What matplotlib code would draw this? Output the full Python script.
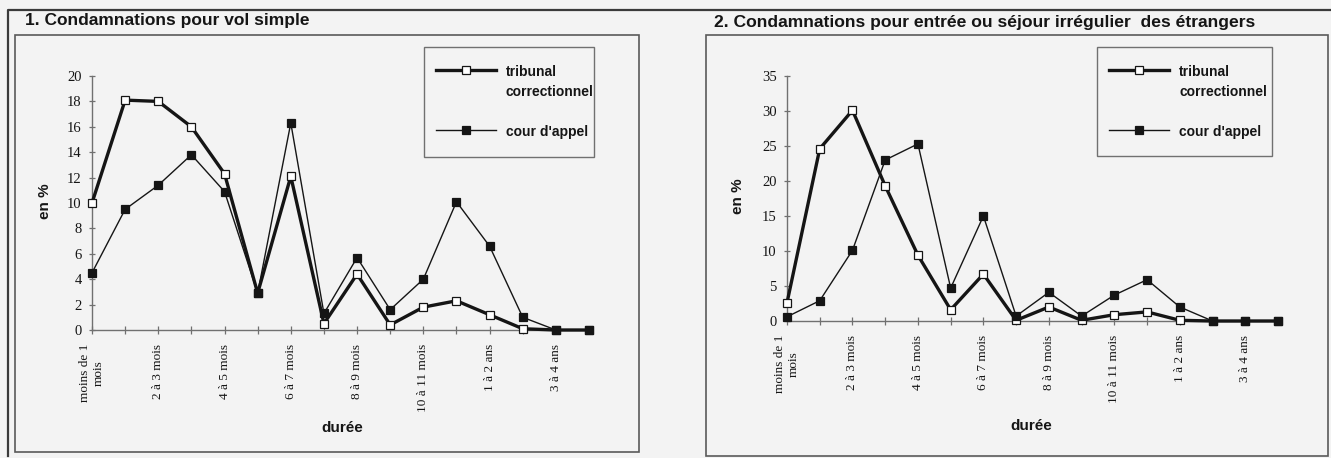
import matplotlib
matplotlib.use("Agg")
import matplotlib.pyplot as plt
from matplotlib.lines import Line2D
from matplotlib.patches import Rectangle

# ---------------- data ----------------
categories = ["moins de 1\nmois", "1 à 2 mois", "2 à 3 mois", "3 à 4 mois",
              "4 à 5 mois", "5 à 6 mois", "6 à 7 mois", "7 à 8 mois",
              "8 à 9 mois", "9 à 10 mois", "10 à 11 mois", "11 à 12 mois",
              "1 à 2 ans", "2 à 3 ans", "3 à 4 ans", "4 ans et plus"]

vol_tribunal = [10.0, 18.1, 18.0, 16.0, 12.3, 2.9, 12.1, 0.5, 4.4, 0.4,
                1.8, 2.3, 1.2, 0.1, 0.0, 0.0]
vol_cour = [4.5, 9.5, 11.4, 13.8, 10.9, 2.9, 16.3, 1.3, 5.7, 1.6,
            4.0, 10.1, 6.6, 1.0, 0.0, 0.0]

etr_tribunal = [2.6, 24.6, 30.1, 19.3, 9.4, 1.6, 6.7, 0.1, 2.0, 0.1,
                0.9, 1.3, 0.1, 0.0, 0.0, 0.0]
etr_cour = [0.6, 2.9, 10.1, 23.0, 25.3, 4.7, 15.0, 0.7, 4.1, 0.7,
            3.7, 5.9, 2.0, 0.0, 0.0, 0.0]

titles = ["1. Condamnations pour vol simple",
          "2. Condamnations pour entrée ou séjour irrégulier  des étrangers"]
series_names = ["tribunal\ncorrectionnel", "cour d'appel"]
y_ticks_1 = list(range(0, 21, 2))
y_ticks_2 = list(range(0, 36, 5))

# ---------------- style ----------------
W, H = 1331, 458
BG = "#f3f3f3"
INK = "#151515"
GREY = "#707070"
SERIF = ["Liberation Serif", "DejaVu Serif"]
SANS = ["Liberation Sans", "DejaVu Sans"]
NARROW = ["Liberation Sans Narrow", "Liberation Sans", "DejaVu Sans"]

fig = plt.figure(figsize=(W / 100, H / 100), dpi=100, facecolor=BG)


def px(x, y):
    return x / W, 1 - y / H


def frect(x0, y0, x1, y1, lw, color):
    r = Rectangle(px(x0, y1), (x1 - x0) / W, (y1 - y0) / H,
                  transform=fig.transFigure, fill=False, lw=lw,
                  edgecolor=color, zorder=0)
    fig.add_artist(r)


def fline(xs, ys, **kw):
    fig.add_artist(Line2D([x / W for x in xs], [1 - y / H for y in ys],
                          transform=fig.transFigure, **kw))


# outer border and chart frames
fline([8, 8, W], [H - 2, 10, 10], color="#3a3a3a", lw=1.6)
frect(15, 35, 639, 452, 1.2, "#5a5a5a")
frect(706, 35, 1328, 456, 1.2, "#5a5a5a")

fig.text(25 / W, 1 - 21 / H, titles[0], fontsize=12.5, fontweight="bold",
         family=SANS, ha="left", va="center", color=INK)
fig.text(714 / W, 1 - 22 / H, titles[1], fontsize=12.6, fontweight="bold",
         family=SANS, ha="left", va="center", color=INK)

panels = [
    dict(rect=(92, 76, 589, 330), tri=vol_tribunal, cour=vol_cour,
         ymax=20, yticks=y_ticks_1, ylab_x=45, xlab=(342, 428),
         legend=(424, 47, 594, 157)),
    dict(rect=(787, 76, 1278, 321), tri=etr_tribunal, cour=etr_cour,
         ymax=35, yticks=y_ticks_2, ylab_x=738, xlab=(1031, 426),
         legend=(1097, 47, 1272, 156)),
]

x = list(range(len(categories)))
shown = [c if i % 2 == 0 else "" for i, c in enumerate(categories)]

for p in panels:
    x0, y0, x1, y1 = p["rect"]
    ax = fig.add_axes([x0 / W, 1 - y1 / H, (x1 - x0) / W, (y1 - y0) / H])
    ax.set_facecolor("none")
    ax.plot(x, p["tri"], color=INK, lw=2.4, marker="s", ms=6.2,
            mfc="white", mec=INK, mew=0.9, clip_on=False, zorder=3)
    ax.plot(x, p["cour"], color=INK, lw=1.0, marker="s", ms=6.2,
            mfc=INK, mec=INK, mew=0.9, clip_on=False, zorder=4)
    ax.set_xlim(0, len(categories) - 1)
    ax.set_ylim(0, p["ymax"])
    ax.set_yticks(p["yticks"])
    ax.set_yticklabels([str(v) for v in p["yticks"]], family=SERIF,
                       fontsize=10.5, color=INK)
    ax.set_xticks(x)
    ax.set_xticklabels(shown, rotation=90, family=SERIF, fontsize=9.5,
                       color=INK, ha="center", va="top")
    for s in ("top", "right"):
        ax.spines[s].set_visible(False)
    for s in ("left", "bottom"):
        ax.spines[s].set_color(GREY)
        ax.spines[s].set_linewidth(1.0)
    ax.tick_params(axis="x", direction="inout", length=6, width=0.9,
                   color=GREY, pad=7)
    ax.tick_params(axis="y", direction="inout", length=5, width=0.9,
                   color=GREY, pad=5)

    fig.text(p["ylab_x"] / W, 1 - ((y0 + y1) / 2 - 2) / H, "en %",
             rotation=90, fontsize=11, fontweight="bold", family=SANS,
             ha="center", va="center", color=INK)
    fig.text(p["xlab"][0] / W, 1 - p["xlab"][1] / H, "durée",
             fontsize=11, fontweight="bold", family=SANS,
             ha="center", va="center", color=INK)

    # legend box
    lx0, ly0, lx1, ly1 = p["legend"]
    frect(lx0, ly0, lx1, ly1, 1.0, GREY)
    hx0, hx1 = lx0 + 12, lx0 + 72
    tx = lx0 + 82
    fline([hx0, hx1], [70, 70], color=INK, lw=2.4)
    fline([(hx0 + hx1) / 2], [70], color=INK, lw=0, marker="s", ms=6.2,
          mfc="white", mec=INK, mew=0.9)
    fline([hx0, hx1], [130, 130], color=INK, lw=1.0)
    fline([(hx0 + hx1) / 2], [130], color=INK, lw=0, marker="s", ms=6.2,
          mfc=INK, mec=INK, mew=0.9)
    fig.text(tx / W, 1 - 72 / H, series_names[0].split("\n")[0],
             fontsize=10, fontweight="bold", family=NARROW,
             ha="left", va="center", color=INK)
    fig.text(tx / W, 1 - 92 / H, series_names[0].split("\n")[1],
             fontsize=10, fontweight="bold", family=NARROW,
             ha="left", va="center", color=INK)
    fig.text(tx / W, 1 - 132 / H, series_names[1],
             fontsize=10, fontweight="bold", family=NARROW,
             ha="left", va="center", color=INK)

fig.savefig("out.png", dpi=100, facecolor=BG)
